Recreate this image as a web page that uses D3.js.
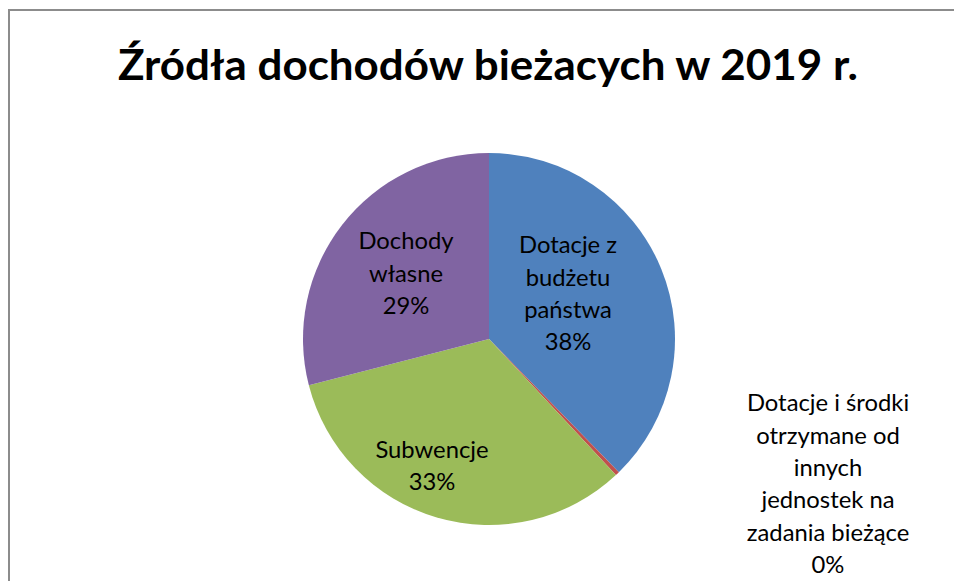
<!DOCTYPE html>
<html>
<head>
<meta charset="utf-8">
<script src="https://cdn.jsdelivr.net/npm/d3@7"></script>
<style>
  html, body { margin: 0; padding: 0; background: #fff; }
  svg { display: block; }
</style>
</head>
<body>
<svg id="chart" width="954" height="581"></svg>
<script>
// ---- data ----
const title = "Źródła dochodów bieżacych w 2019 r.";
const categories = [
  "Dotacje z budżetu państwa",
  "Dotacje i środki otrzymane od innych jednostek na zadania bieżące",
  "Subwencje",
  "Dochody własne"
];
const values = [37.7, 0.35, 32.95, 29.0];
const colors = ["#4F81BD", "#C0504D", "#9BBB59", "#8064A2"];

// ---- layout (not data) ----
const W = 954, H = 581;
const cx = 489, cy = 339, R = 186;
const fontFamily = "Lato, 'Open Sans', 'DejaVu Sans', sans-serif";
const labelFont = 23.8;
const lineH = 32.4;
// label line breaks and anchor (x center, last-line baseline)
const labelLayout = [
  { lines: ["Dotacje z", "budżetu", "państwa"], x: 568, lastBaseline: 350.4 },
  { lines: ["Dotacje i środki", "otrzymane od", "innych", "jednostek na", "zadania bieżące"], x: 828, lastBaseline: 573.2 },
  { lines: ["Subwencje"], x: 432, lastBaseline: 490 },
  { lines: ["Dochody", "własne"], x: 406, lastBaseline: 314 }
];

const svg = d3.select("#chart");

// chart border
svg.append("rect")
  .attr("x", 9).attr("y", 10)
  .attr("width", W + 20).attr("height", H + 20)
  .attr("fill", "#fff")
  .attr("stroke", "#8c8c8c")
  .attr("stroke-width", 2);

// title
svg.append("text")
  .attr("x", 488).attr("y", 80)
  .attr("text-anchor", "middle")
  .attr("font-family", fontFamily)
  .attr("font-weight", "bold")
  .attr("font-size", 42)
  .attr("fill", "#000")
  .attr("textLength", 740)
  .attr("lengthAdjust", "spacingAndGlyphs")
  .text(title);

// pie
const total = d3.sum(values);
const pie = d3.pie().sort(null).value(d => d)(values);
const arc = d3.arc().innerRadius(0).outerRadius(R);

const g = svg.append("g").attr("transform", `translate(${cx},${cy})`);
g.selectAll("path")
  .data(pie)
  .join("path")
  .attr("d", arc)
  .attr("fill", (d, i) => colors[i]);

// labels
const fmt = v => Math.round(v / total * 100) + "%";
labelLayout.forEach((L, i) => {
  const lines = L.lines.concat([fmt(values[i])]);
  const n = lines.length;
  const txt = svg.append("text")
    .attr("text-anchor", "middle")
    .attr("font-family", fontFamily)
    .attr("font-size", labelFont)
    .attr("fill", "#000");
  lines.forEach((s, k) => {
    txt.append("tspan")
      .attr("x", L.x)
      .attr("y", L.lastBaseline - (n - 1 - k) * lineH)
      .text(s);
  });
});
</script>
</body>
</html>
